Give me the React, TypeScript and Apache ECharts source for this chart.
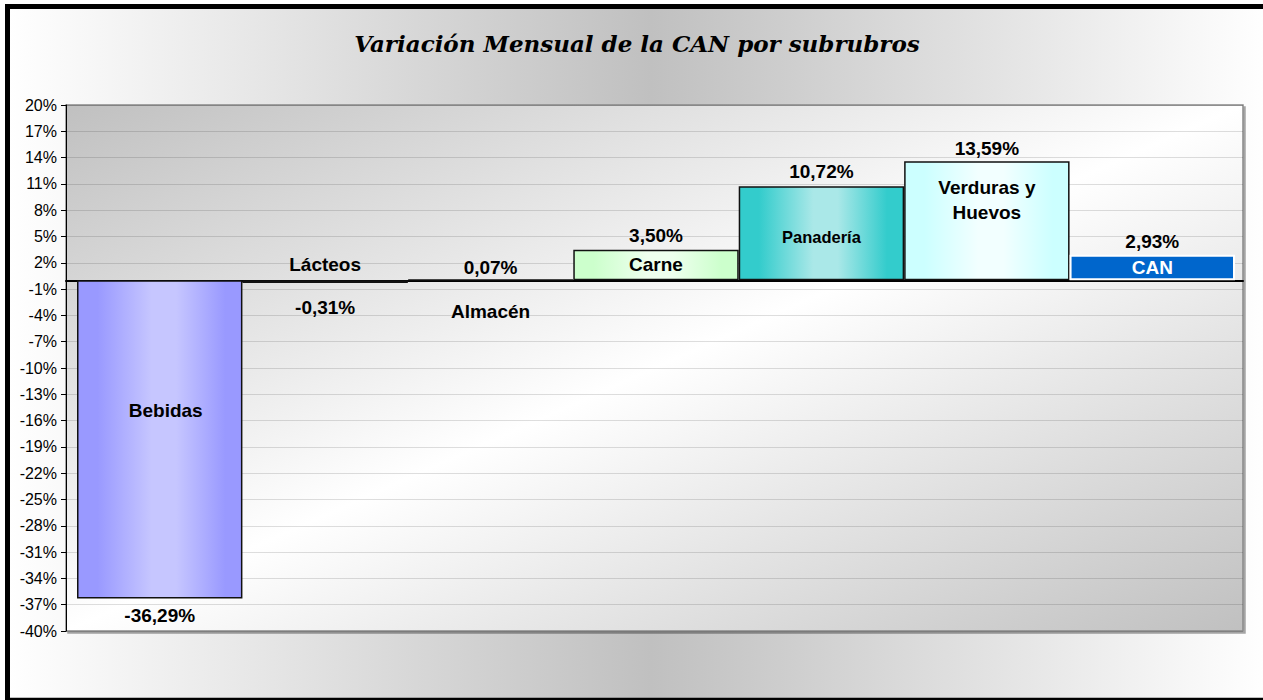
import React, { useEffect, useRef } from 'react';
import * as echarts from 'echarts';

const chartTitle = 'Variación Mensual de la CAN por subrubros';
const categories = ['Bebidas', 'Lácteos', 'Almacén', 'Carne', 'Panadería', 'Verduras y Huevos', 'CAN'];
const categoryLabels = ['Bebidas', 'Lácteos', 'Almacén', 'Carne', 'Panadería', 'Verduras y\nHuevos', 'CAN'];
const values = [-36.29, -0.31, 0.07, 3.5, 10.72, 13.59, 2.93];
const yMin = -40;
const yMax = 20;
const yStep = 3;

const baseColors = ['#9999FF', '#CC99FF', '#FFFFCC', '#CCFFCC', '#33CCCC', '#CCFFFF', '#0066CC'];
const lightColors = ['#C6C6FF', '#E6CCFF', '#FFFFEE', '#EEFFEE', '#AAE8E8', '#F2FFFF', '#0066CC'];

const valueLabelLayout: any[] = [
  { position: 'bottom', distance: 8 },
  { position: 'bottom', distance: 15 },
  { position: 'top', distance: 2 },
  { position: 'top', distance: 5 },
  { position: 'top', distance: 5 },
  { position: 'top', distance: 3 },
  { position: 'top', distance: 4 },
];
const nameLabelLayout: any[] = [
  { position: 'inside', offset: [6, -29] },
  { position: 'top', distance: 6 },
  { position: 'bottom', distance: 22 },
  { position: 'inside', offset: [0, 0] },
  { position: 'inside', offset: [0, 3.5], fontSize: 16.5 },
  { position: 'inside', offset: [0, -20.5], lineHeight: 25 },
  { position: 'inside', offset: [0, 0], color: '#FFFFFF' },
];

const FONT = '"Liberation Sans", Arial, sans-serif';
const fmt = (v: number) => v.toFixed(2).replace('.', ',') + '%';

export default function App() {
  const ref = useRef<HTMLDivElement>(null);
  useEffect(() => {
    if (!ref.current) return;
    const chart = echarts.init(ref.current, undefined, { renderer: 'svg' });
    const shift = (((-yMin) % yStep) + yStep) % yStep;
    const grad = (i: number) =>
      baseColors[i] === lightColors[i]
        ? baseColors[i]
        : new echarts.graphic.LinearGradient(0, 0, 1, 0, [
            { offset: 0, color: baseColors[i] },
            { offset: 0.12, color: baseColors[i] },
            { offset: 0.45, color: lightColors[i] },
            { offset: 0.6, color: lightColors[i] },
            { offset: 0.9, color: baseColors[i] },
            { offset: 1, color: baseColors[i] },
          ]);
    const option: any = {
      animation: false,
      graphic: [
        {
          type: 'rect',
          z: -100,
          silent: true,
          shape: { x: 7.5, y: 6.5, width: 1262, height: 693.7 },
          style: {
            fill: new echarts.graphic.LinearGradient(0, 0, 1, 0, [
              { offset: 0, color: '#FFFFFF' },
              { offset: 0.51, color: '#C0C0C0' },
              { offset: 1, color: '#FFFFFF' },
            ]),
            stroke: '#000000',
            lineWidth: 5,
          },
        },
        {
          type: 'text',
          x: 637,
          y: 43,
          z: 10,
          style: {
            text: chartTitle,
            textAlign: 'center',
            textVerticalAlign: 'middle',
            fontFamily: '"DejaVu Serif", serif',
            fontStyle: 'italic',
            fontWeight: 'bold',
            fontSize: 23,
            fill: '#000000',
          },
        },
      ],
      grid: [
        {
          left: 66,
          top: 105,
          width: 1177,
          height: 526,
          show: true,
          backgroundColor: new echarts.graphic.LinearGradient(0, 0, 1, 1, [
            { offset: 0, color: '#C0C0C0' },
            { offset: 0.5, color: '#FFFFFF' },
            { offset: 1, color: '#C0C0C0' },
          ]),
          borderColor: '#888888',
          borderWidth: 1.5,
          shadowColor: 'rgba(0,0,0,0.35)',
          shadowOffsetX: 2,
          shadowOffsetY: 2,
          shadowBlur: 1,
        },
        { left: 77, top: 105, width: 1158, height: 526 },
      ],
      xAxis: [
        {
          gridIndex: 0,
          type: 'value',
          min: 0,
          max: 1,
          axisLine: { show: true, onZero: true, onZeroAxisIndex: 1, lineStyle: { color: '#000000', width: 2 } },
          axisTick: { show: false },
          axisLabel: { show: false },
          splitLine: { show: false },
        },
        { gridIndex: 1, type: 'category', data: categories, show: false },
      ],
      yAxis: [
        {
          gridIndex: 0,
          type: 'value',
          min: yMin + shift,
          max: yMax + shift,
          interval: yStep,
          axisLine: { show: true, lineStyle: { color: '#000000', width: 1 } },
          axisTick: { show: true, length: 5, lineStyle: { color: '#000000' } },
          axisLabel: {
            formatter: (v: number) => Math.round(v - shift) + '%',
            color: '#000000',
            fontSize: 16,
            fontFamily: FONT,
            margin: 9,
          },
          splitLine: { show: true, lineStyle: { color: 'rgba(0,0,0,0.13)', width: 1 } },
        },
        { gridIndex: 0, type: 'value', min: yMin, max: yMax, show: false },
        { gridIndex: 1, type: 'value', min: yMin, max: yMax, show: false },
      ],
      series: [
        {
          type: 'bar',
          xAxisIndex: 1,
          yAxisIndex: 2,
          barWidth: '100%',
          barCategoryGap: 0,
          data: values.map((v, i) => ({
            value: v,
            itemStyle: {
              color: grad(i),
              borderColor: i === values.length - 1 ? '#FFFFFF' : '#111111',
              borderWidth: i === values.length - 1 ? 2 : 1.5,
            },
            label: { show: true, ...valueLabelLayout[i] },
          })),
          label: {
            show: true,
            formatter: (p: any) => fmt(p.value),
            fontFamily: FONT,
            fontWeight: 'bold',
            fontSize: 19,
            color: '#000000',
          },
          z: 2,
        },
        {
          type: 'bar',
          xAxisIndex: 1,
          yAxisIndex: 2,
          barWidth: '100%',
          barGap: '-100%',
          silent: true,
          itemStyle: { color: 'rgba(0,0,0,0)', borderWidth: 0 },
          data: values.map((v, i) => ({
            value: v,
            label: { show: true, ...nameLabelLayout[i] },
          })),
          label: {
            show: true,
            formatter: (p: any) => categoryLabels[p.dataIndex],
            fontFamily: FONT,
            fontWeight: 'bold',
            fontSize: 19,
            color: '#000000',
            textBorderWidth: 0,
          },
          z: 3,
        },
      ],
    };
    chart.setOption(option);
    return () => chart.dispose();
  }, []);
  return (
    <div
      ref={ref}
      style={{ position: 'absolute', left: 0, top: 0, width: 1263, height: 700 }}
    />
  );
}
